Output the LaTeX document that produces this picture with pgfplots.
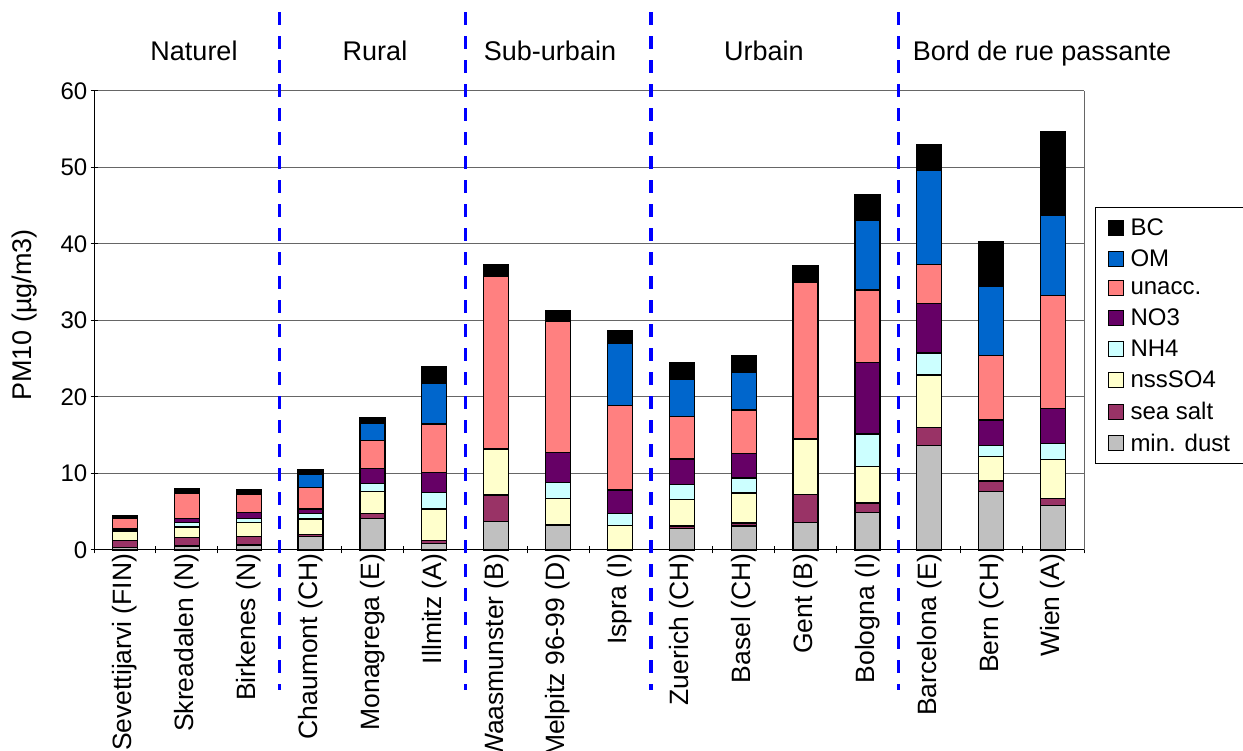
\documentclass[border=0pt]{standalone}
\usepackage{pgfplots}
\pgfplotsset{compat=1.18}
\usepackage{pgfplotstable}
\usepackage{fontspec}
\setmainfont{Liberation Sans}

\definecolor{cBC}{RGB}{0,0,0}
\definecolor{cOM}{RGB}{0,102,204}
\definecolor{cUN}{RGB}{255,128,128}
\definecolor{cNO}{RGB}{102,0,102}
\definecolor{cNH}{RGB}{204,255,255}
\definecolor{cSO}{RGB}{255,255,204}
\definecolor{cSS}{RGB}{153,51,102}
\definecolor{cMD}{RGB}{192,192,192}

\pgfplotsset{sqlegend/.style={legend image code/.code={\draw[#1, line width=1pt] (0pt,-7.5pt) rectangle (15pt,7.5pt); \path (19pt,0pt);}}}

\pgfplotstableread{
x dust salt so4 nh4 no3 unacc om bc
0 0.30 0.95 1.20 0.10 0.20 1.39 0.00 0.36
1 0.52 1.08 1.40 0.57 0.57 3.22 0.00 0.64
2 0.65 1.09 1.88 0.52 0.74 2.40 0.00 0.65
3 1.80 0.25 2.00 0.75 0.56 2.84 1.70 0.65
4 4.14 0.66 2.82 1.10 1.96 3.61 2.27 0.74
5 0.87 0.35 4.14 2.14 2.65 6.32 5.32 2.18
6 3.70 3.49 6.01 0.00 0.00 22.53 0.00 1.61
7 3.27 0.00 3.44 2.09 3.92 17.13 0.00 1.43
8 0.00 0.00 3.18 1.62 3.04 11.07 8.11 1.65
9 2.79 0.35 3.48 1.92 3.36 5.53 4.88 2.22
10 3.14 0.39 3.92 1.96 3.23 5.66 4.92 2.14
11 3.62 3.61 7.28 0.00 0.00 20.48 0.00 2.18
12 4.88 1.26 4.80 4.22 9.37 9.46 9.15 3.26
13 13.64 2.35 6.89 2.87 6.45 5.14 12.33 3.27
14 7.62 1.40 3.18 1.44 3.35 8.41 9.02 5.84
15 5.80 0.95 5.10 2.09 4.58 14.73 10.54 10.89
}\data

\begin{document}
\begin{tikzpicture}[x=1pt,y=1pt]
\useasboundingbox (0,0) rectangle (1243,751);
\begin{axis}[
  at={(94pt,201pt)}, anchor=south west,
  scale only axis, width=990pt, height=459pt,
  ybar stacked, bar width=25pt,
  xmin=-0.5, xmax=15.5, ymin=0, ymax=60,
  ytick={0,10,...,60},
  xtick={0,...,15},
  xticklabels={Sevettijarvi (FIN),Skreadalen (N),Birkenes (N),Chaumont (CH),Monagrega (E),Illmitz (A),Waasmunster (B),Melpitz 96-99 (D),Ispra (I),Zuerich (CH),Basel (CH),Gent (B),Bologna (I),Barcelona (E),Bern (CH),Wien (A)},
  minor xtick={-0.5,0.5,...,15.5},
  major x tick style={draw=none},
  tick align=outside, tick pos=left,
  major tick length=7pt, minor tick length=7pt,
  tick style={black, line width=1pt},
  ymajorgrids, grid style={black!60, line width=1pt},
  axis lines=left, axis line style={-, black, line width=1pt},
  /pgf/number format/assume math mode=true,
  ticklabel style={font=\fontsize{24}{28}\selectfont},
  yticklabel style={inner sep=3pt},
  xticklabel style={rotate=90, anchor=east, inner sep=0pt, font=\fontsize{26.5}{30}\selectfont},
  clip=false,
  every axis plot post/.append style={draw=black, line width=1.2pt, sqlegend},
  reverse legend,
  legend cell align=left,
  legend style={at={(1.011,0.747)}, anchor=north west, draw=black, line width=1pt, fill=white,
    font=\fontsize{24}{26}\selectfont, inner xsep=13pt, inner ysep=9pt, row sep=9pt},
]
\addplot[fill=cMD] table[x=x,y=dust]{\data};
\addplot[fill=cSS] table[x=x,y=salt]{\data};
\addplot[fill=cSO] table[x=x,y=so4]{\data};
\addplot[fill=cNH] table[x=x,y=nh4]{\data};
\addplot[fill=cNO] table[x=x,y=no3]{\data};
\addplot[fill=cUN] table[x=x,y=unacc]{\data};
\addplot[fill=cOM] table[x=x,y=om]{\data};
\addplot[fill=cBC] table[x=x,y=bc]{\data};
\legend{min. dust,sea salt,nssSO4,NH4,NO3,unacc.,OM,BC}
\draw[black!60, line width=1pt] (axis cs:15.5,0) -- (axis cs:15.5,60);
\draw[blue, line width=3.5pt, dash pattern=on 13pt off 11pt] (axis cs:2.5,70.3) -- (axis cs:2.5,-18.3);
\draw[blue, line width=3.5pt, dash pattern=on 13pt off 11pt] (axis cs:5.5,70.3) -- (axis cs:5.5,-18.3);
\draw[blue, line width=3.5pt, dash pattern=on 13pt off 11pt] (axis cs:8.5,70.3) -- (axis cs:8.5,-18.3);
\draw[blue, line width=3.5pt, dash pattern=on 13pt off 11pt] (axis cs:12.5,70.3) -- (axis cs:12.5,-18.3);
\end{axis}
\begin{scope}[every node/.style={font=\fontsize{27}{32}\selectfont, anchor=base}]
\node at (194,690) {Naturel};
\node at (375,690) {Rural};
\node at (550,690) {Sub-urbain};
\node at (764,690) {Urbain};
\node at (1042,690) {Bord de rue passante};
\node[rotate=90, anchor=center] at (25,436) {PM10 (µg/m3)};
\end{scope}
\end{tikzpicture}
\end{document}
